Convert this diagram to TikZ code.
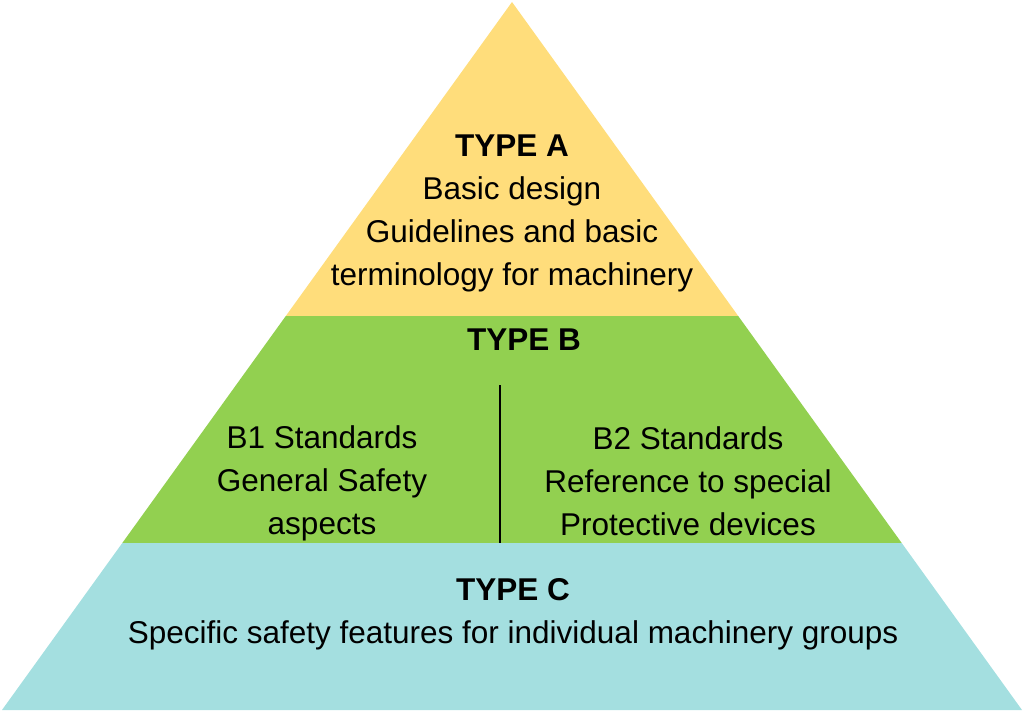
\documentclass[tikz,border=0pt]{standalone}
\usepackage{fontspec}
\setmainfont{Liberation Sans}
\usepackage{xcolor}
\definecolor{typeA}{HTML}{FFDD7B}
\definecolor{typeB}{HTML}{92D050}
\definecolor{typeC}{HTML}{A4DFE0}

\begin{document}
\begin{tikzpicture}[x=1pt, y=1pt,
    label/.style={align=center, inner sep=0pt, font=\fontsize{31.5}{43}\selectfont}]
            \useasboundingbox (0,0) rectangle (1024,713);
            \coordinate (apex) at (512,711);
            \coordinate (bl) at (2,3);
            \coordinate (br) at (1022,3);
            \coordinate (al) at (285.8,397) ;
            \coordinate (ar) at (738.2,397);
            \coordinate (cl) at (122.3,170);
            \coordinate (cr) at (901.7,170);
            \fill[typeA] (apex) -- (al) -- (ar) -- cycle;
            \fill[typeB] (al) -- (cl) -- (cr) -- (ar) -- cycle;
            \fill[typeC] (cl) -- (bl) -- (br) -- (cr) -- cycle;
            \coordinate (divtop) at (500,328);
            \coordinate (divbot) at (500,170);
            \draw[line width=1.5pt] (divtop) -- (divbot);
            \node[label] (A) at (512,500) {\textbf{TYPE A}\\Basic design\\Guidelines and basic\\terminology for machinery};
            \node[label] (B) at (524,373) {\textbf{TYPE B}};
            \node[label] (B1) at (322,230) {B1 Standards\\General Safety\\aspects};
            \node[label] (B2) at (688,232) {B2 Standards\\Reference to special\\Protective devices};
            \node[label] (C) at (513,99) {\textbf{TYPE C}\\Specific safety features for individual machinery groups};
        \end{tikzpicture}
\end{document}
